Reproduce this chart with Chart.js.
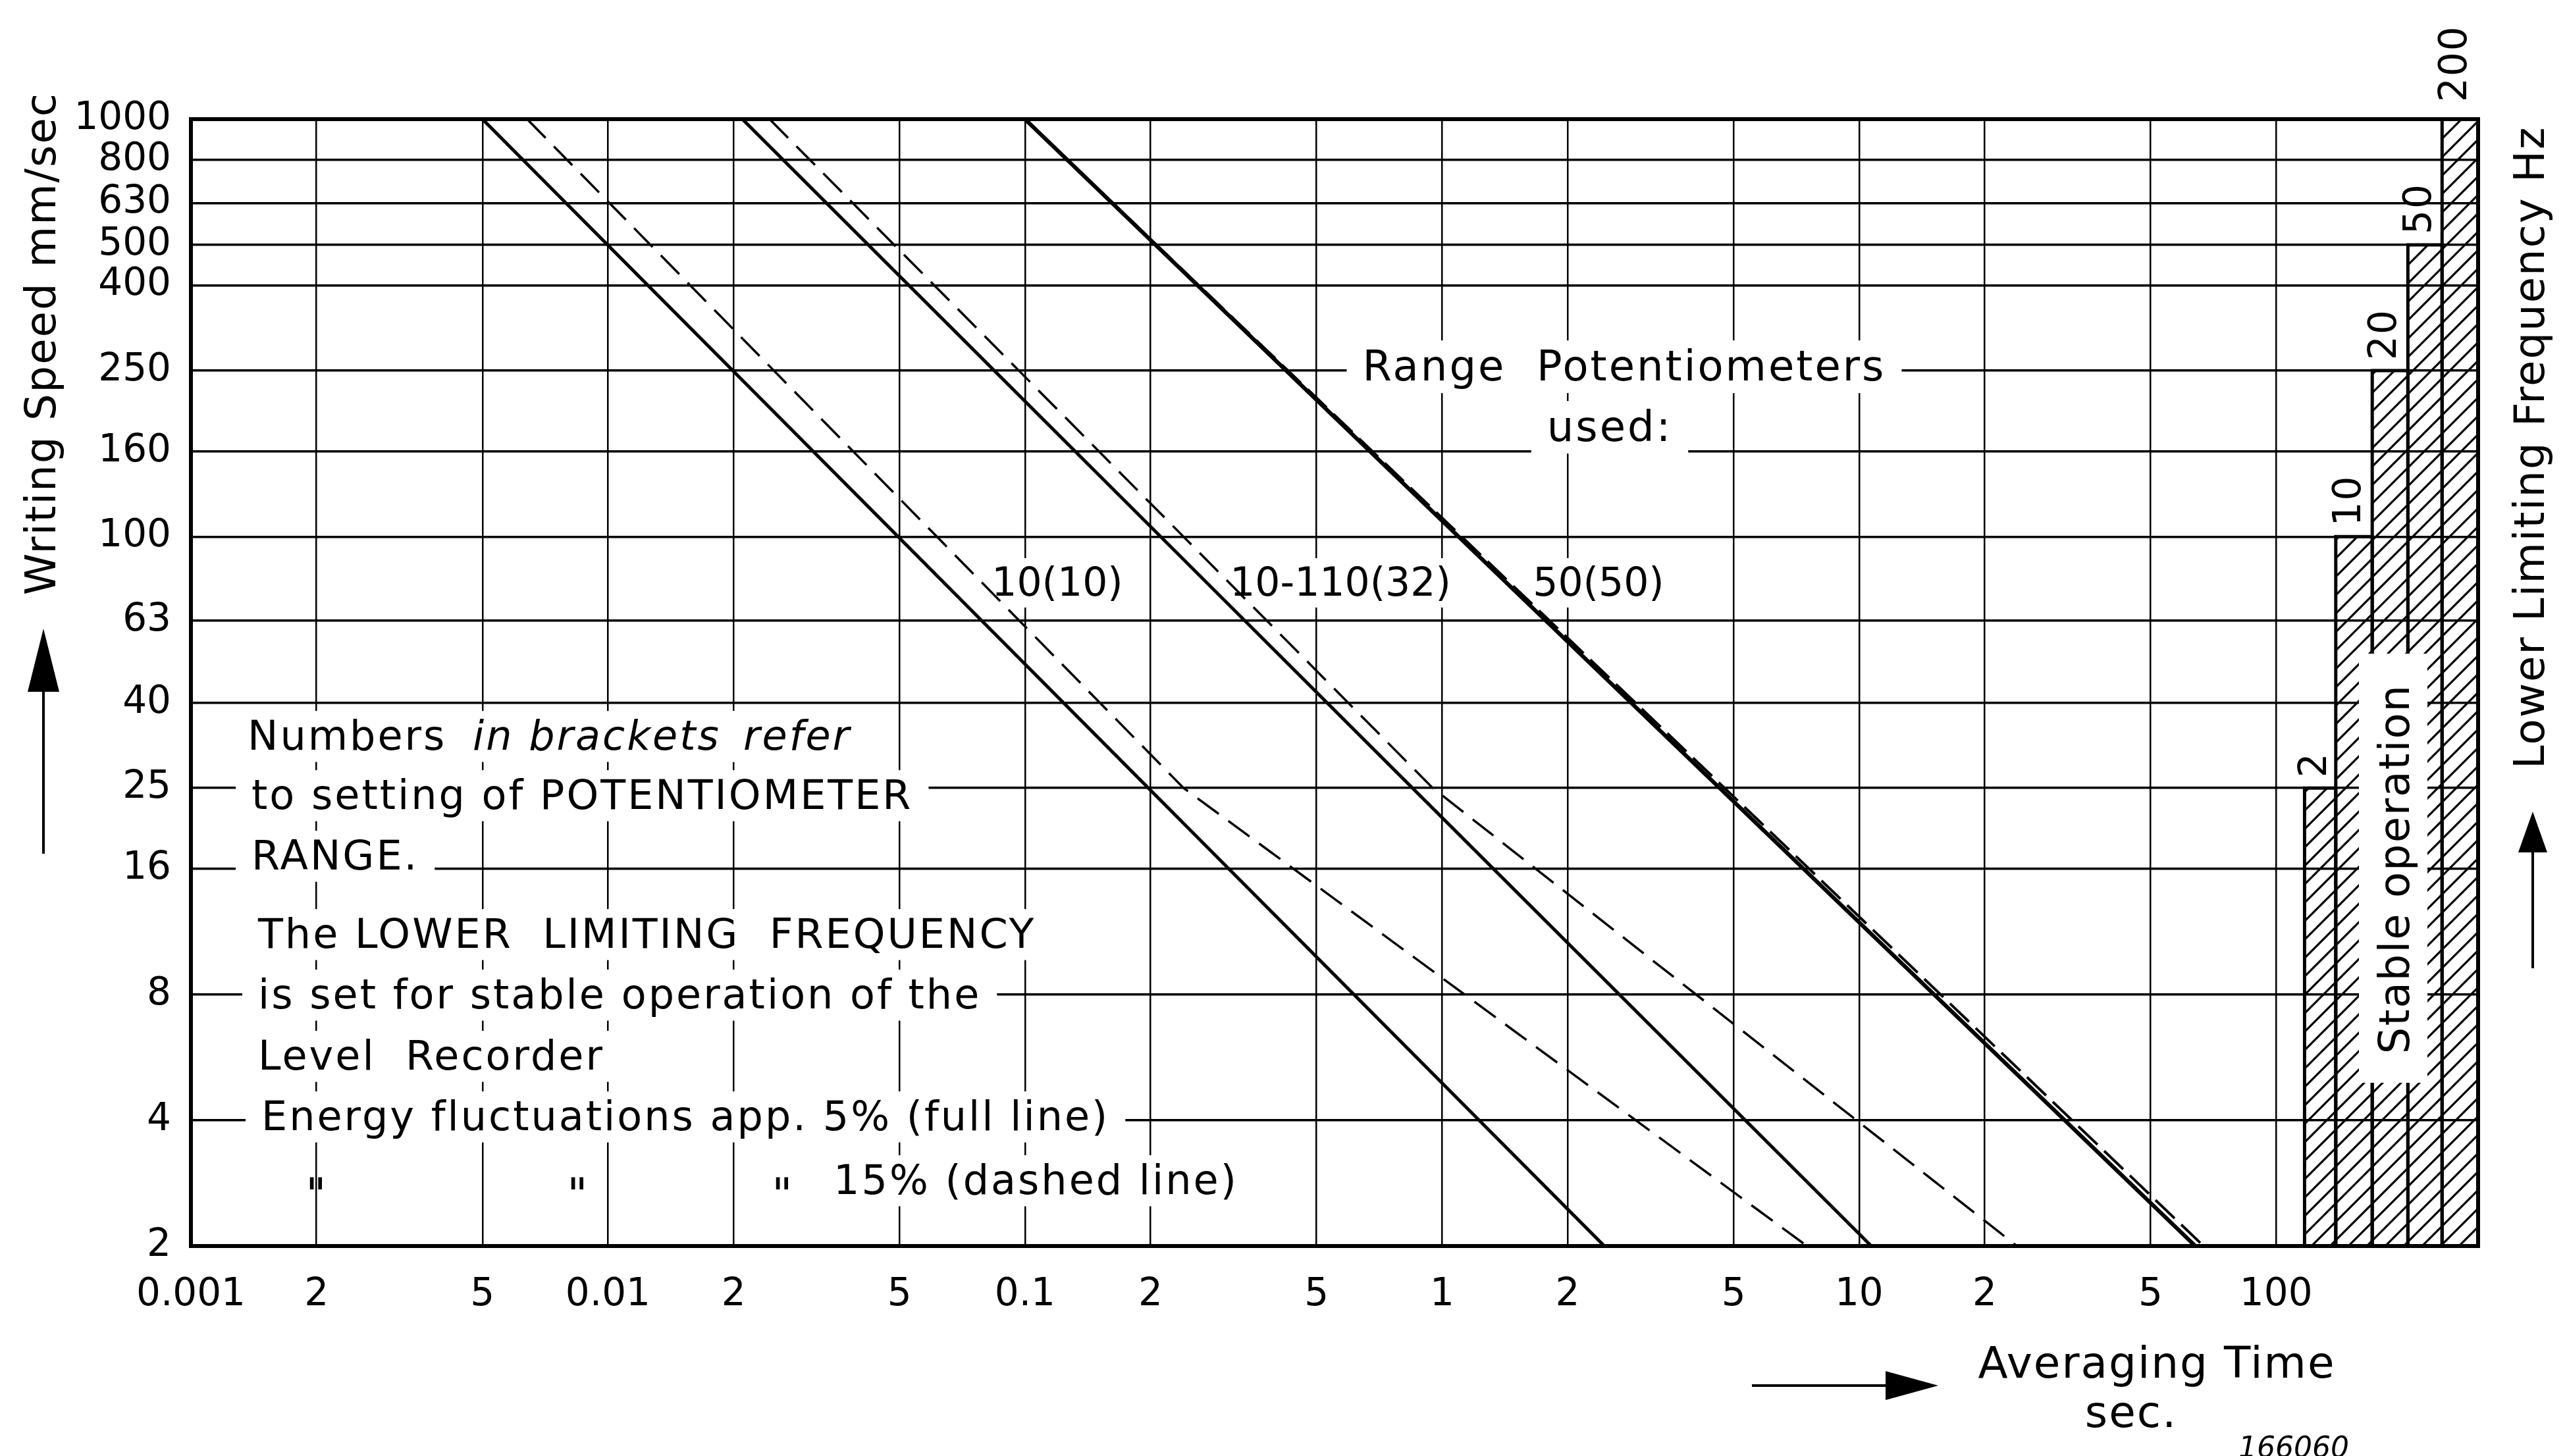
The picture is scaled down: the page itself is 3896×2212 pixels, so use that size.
<!DOCTYPE html>
<html>
<head>
<meta charset="utf-8">
<title>Writing Speed / Averaging Time</title>
<script src="https://cdn.jsdelivr.net/npm/chart.js@4.4.1/dist/chart.umd.min.js"></script>
<style>
  html, body { margin: 0; padding: 0; background: #fff; }
  #wrap { width: 3896px; height: 2212px; position: relative; }
</style>
</head>
<body>
<div id="wrap"><canvas id="chart"></canvas></div>
<script>
// Axis ticks
const timeTicks = [0.001, 0.002, 0.005, 0.01, 0.02, 0.05, 0.1, 0.2, 0.5, 1, 2, 5, 10, 20, 50, 100];
const timeTickLabels = ['0.001', '2', '5', '0.01', '2', '5', '0.1', '2', '5', '1', '2', '5', '10', '2', '5', '100'];
const speedTicks = [2, 4, 8, 16, 25, 40, 63, 100, 160, 250, 400, 500, 630, 800, 1000];

// Full lines: energy fluctuations app. 5 %
const fullSpeeds = [1000, 2];
const full10 = [0.005, 2.45];
const full32 = [0.021, 10.7];
const full50 = [0.1, 64];

// Dashed lines: energy fluctuations app. 15 %
const dashedSpeeds = [1000, 25, 2];
const dashed10 = [0.0064, 0.24, 7.5];
const dashed32 = [0.0244, 0.95, 23.9];
const dashed50Speeds = [1000, 2];
const dashed50 = [0.1, 67];

// Lower limiting frequency blocks (hatched)
const freqLabels = ['2', '10', '20', '50', '200'];
const freqLeft = [117, 139, 170, 207, 250];
const freqRight = [139, 170, 207, 250, 305];
const freqTopSpeed = [25, 100, 250, 500, 1000];

const FONT = '"DejaVu Sans", "Liberation Sans", sans-serif';

// text blocks written into the grid (white background cuts the grid lines)
const gridTexts = [
    { t: '10(10)', x: 1606, y: 905, size: 60, align: 'center', sp: 0 },
    { t: '10-110(32)', x: 2036, y: 905, size: 60, align: 'center', sp: 0 },
    { t: '50(50)', x: 2428, y: 905, size: 60, align: 'center', sp: 0 },
    { t: 'Range  Potentiometers', x: 2467, y: 578, size: 64, align: 'center', sp: 3 },
    { t: 'used:', x: 2445, y: 670, size: 64, align: 'center', sp: 3 },
    { t: 'Numbers', x: 376, y: 1139 },
    { t: 'in brackets', x: 718, y: 1139, italic: true },
    { t: 'refer', x: 1129, y: 1139, italic: true },
    { t: 'to setting of POTENTIOMETER', x: 382, y: 1229 },
    { t: 'RANGE.', x: 382, y: 1321 },
    { t: 'The LOWER  LIMITING  FREQUENCY', x: 392, y: 1440 },
    { t: 'is set for stable operation of the', x: 392, y: 1532 },
    { t: 'Level  Recorder', x: 392, y: 1625 },
    { t: 'Energy fluctuations app. 5% (full line)', x: 397, y: 1717 },
    { t: '15% (dashed line)', x: 1266, y: 1814 }
];

function points(xs, ys) {
    return xs.map((x, i) => ({ x: x, y: ys[i] }));
}

// diagonal hatch pattern for the frequency blocks
function makeHatch(ctx) {
    const s = 28;
    const tile = document.createElement('canvas');
    tile.width = s;
    tile.height = s;
    const g = tile.getContext('2d');
    g.strokeStyle = '#000';
    g.lineWidth = 3.2;
    g.beginPath();
    g.moveTo(0, s); g.lineTo(s, 0);
    g.moveTo(-4, 4); g.lineTo(4, -4);
    g.moveTo(s - 4, s + 4); g.lineTo(s + 4, s - 4);
    g.stroke();
    return ctx.createPattern(tile, 'repeat');
}

function setFont(ctx, o) {
    ctx.font = (o.italic ? 'italic ' : '') + (o.size || 62) + 'px ' + FONT;
    ctx.letterSpacing = (o.sp === undefined ? 3 : o.sp) + 'px';
    ctx.textAlign = o.align || 'left';
    ctx.textBaseline = 'alphabetic';
}

function textBg(ctx, o) {
    setFont(ctx, o);
    const size = o.size || 62;
    const w = ctx.measureText(o.t).width;
    const x0 = o.align === 'center' ? o.x - w / 2 : o.x;
    ctx.fillStyle = '#fff';
    ctx.fillRect(x0 - 24, o.y - size * 0.95, w + 48, size * 1.25);
}

function textFg(ctx, o) {
    setFont(ctx, o);
    ctx.fillStyle = '#000';
    ctx.fillText(o.t, o.x, o.y);
}

function vtext(ctx, str, x, y, size, align) {
    ctx.save();
    ctx.translate(x, y);
    ctx.rotate(-Math.PI / 2);
    ctx.font = size + 'px ' + FONT;
    ctx.letterSpacing = '2px';
    ctx.textAlign = align || 'left';
    ctx.textBaseline = 'middle';
    ctx.fillStyle = '#000';
    ctx.fillText(str, 0, 0);
    ctx.restore();
}

function arrow(ctx, x1, y1, x2, y2, head, half) {
    const ang = Math.atan2(y2 - y1, x2 - x1);
    const bx = x2 - Math.cos(ang) * head;
    const by = y2 - Math.sin(ang) * head;
    ctx.strokeStyle = '#000';
    ctx.lineWidth = 4;
    ctx.beginPath();
    ctx.moveTo(x1, y1);
    ctx.lineTo(bx, by);
    ctx.stroke();
    ctx.fillStyle = '#000';
    ctx.beginPath();
    ctx.moveTo(x2, y2);
    ctx.lineTo(bx + Math.sin(ang) * half, by - Math.cos(ang) * half);
    ctx.lineTo(bx - Math.sin(ang) * half, by + Math.cos(ang) * half);
    ctx.closePath();
    ctx.fill();
}

const annotations = {
    id: 'annotations',
    // white boxes behind the texts: above the grid, below the curves
    beforeDatasetsDraw(chart) {
        const ctx = chart.ctx;
        ctx.save();
        gridTexts.forEach(o => textBg(ctx, o));
        ctx.restore();
    },
    afterDraw(chart) {
        const ctx = chart.ctx;
        const a = chart.chartArea;
        const xs = chart.scales.x;
        const ys = chart.scales.y;
        ctx.save();

        // white window with "Stable operation"
        ctx.fillStyle = '#fff';
        ctx.fillRect(3583, 993, 104, 652);
        vtext(ctx, 'Stable operation', 3642, 1320, 64, 'center');

        // frame
        ctx.strokeStyle = '#000';
        ctx.lineWidth = 6;
        ctx.strokeRect(a.left, a.top, a.right - a.left, a.bottom - a.top);

        // frequency labels above the blocks
        freqLabels.forEach((lab, i) => {
            const cx = xs.getPixelForValue(Math.sqrt(freqLeft[i] * freqRight[i]));
            const top = ys.getPixelForValue(freqTopSpeed[i]);
            vtext(ctx, lab, cx - 6, top - (i === 4 ? 26 : 16), 58, 'left');
        });

        gridTexts.forEach(o => textFg(ctx, o));
        // ditto marks
        [480, 877, 1188].forEach(x => {
            textFg(ctx, { t: '"', x: x, y: 1838, size: 68, align: 'center', sp: 0 });
        });

        // axis titles
        vtext(ctx, 'Writing Speed mm/sec', 67, 904, 64, 'left');
        arrow(ctx, 66, 1297, 66, 955, 96, 24);
        vtext(ctx, 'Lower Limiting Frequency Hz', 3847, 1168, 64, 'left');
        arrow(ctx, 3847, 1471, 3847, 1233, 62, 22);
        arrow(ctx, 2661, 2105, 2944, 2105, 80, 22);
        textFg(ctx, { t: 'Averaging Time', x: 3276, y: 2093, size: 66, align: 'center', sp: 2 });
        textFg(ctx, { t: 'sec.', x: 3237, y: 2168, size: 66, align: 'center', sp: 2 });
        textFg(ctx, { t: '166060', x: 3400, y: 2214, size: 44, italic: true, sp: 0 });

        ctx.restore();
    }
};

document.addEventListener('DOMContentLoaded', function() {
    const canvas = document.getElementById('chart');
    const hatch = makeHatch(canvas.getContext('2d'));

    const datasets = [
        { data: points(full10, fullSpeeds), borderColor: '#000', borderWidth: 5 },
        { data: points(full32, fullSpeeds), borderColor: '#000', borderWidth: 5 },
        { data: points(full50, fullSpeeds), borderColor: '#000', borderWidth: 6 },
        { data: points(dashed10, dashedSpeeds), borderColor: '#000', borderWidth: 3.5, borderDash: [40, 18] },
        { data: points(dashed32, dashedSpeeds), borderColor: '#000', borderWidth: 3.5, borderDash: [40, 18] },
        { data: points(dashed50, dashed50Speeds), borderColor: '#000', borderWidth: 4, borderDash: [40, 14] }
    ];

    // one closed block per lower limiting frequency
    freqLabels.forEach((lab, i) => {
        datasets.push({
            data: [
                { x: freqLeft[i], y: 2 },
                { x: freqLeft[i], y: freqTopSpeed[i] },
                { x: freqRight[i], y: freqTopSpeed[i] },
                { x: freqRight[i], y: 2 }
            ],
            borderColor: '#000',
            borderWidth: 5,
            backgroundColor: hatch,
            fill: 'start'
        });
    });

    new Chart(canvas, {
        type: 'line',
        data: { datasets: datasets },
        options: {
            responsive: true,
            maintainAspectRatio: false,
            animation: false,
            devicePixelRatio: 1,
            layout: { padding: { top: 181, right: 132, left: 0, bottom: 0 } },
            elements: { point: { radius: 0 }, line: { tension: 0, fill: false } },
            plugins: { legend: { display: false }, tooltip: { enabled: false } },
            scales: {
                x: {
                    type: 'logarithmic',
                    min: 0.001,
                    max: 305,
                    afterFit: s => { s.height = 319; },
                    afterBuildTicks: s => { s.ticks = timeTicks.map(v => ({ value: v })); },
                    ticks: {
                        autoSkip: false,
                        maxRotation: 0,
                        padding: 40,
                        color: '#000',
                        font: { family: FONT, size: 58 },
                        callback: (v, i) => timeTickLabels[i]
                    },
                    grid: { color: '#000', lineWidth: 2.5, drawTicks: false },
                    border: { display: false }
                },
                y: {
                    type: 'logarithmic',
                    min: 2,
                    max: 1000,
                    afterFit: s => { s.width = 290; },
                    afterBuildTicks: s => { s.ticks = speedTicks.map(v => ({ value: v })); },
                    ticks: {
                        autoSkip: false,
                        padding: 30,
                        color: '#000',
                        font: { family: FONT, size: 58 },
                        callback: v => String(v)
                    },
                    grid: { color: '#000', lineWidth: 3.5, drawTicks: false },
                    border: { display: false }
                }
            }
        },
        plugins: [annotations]
    });
});
</script>
</body>
</html>
